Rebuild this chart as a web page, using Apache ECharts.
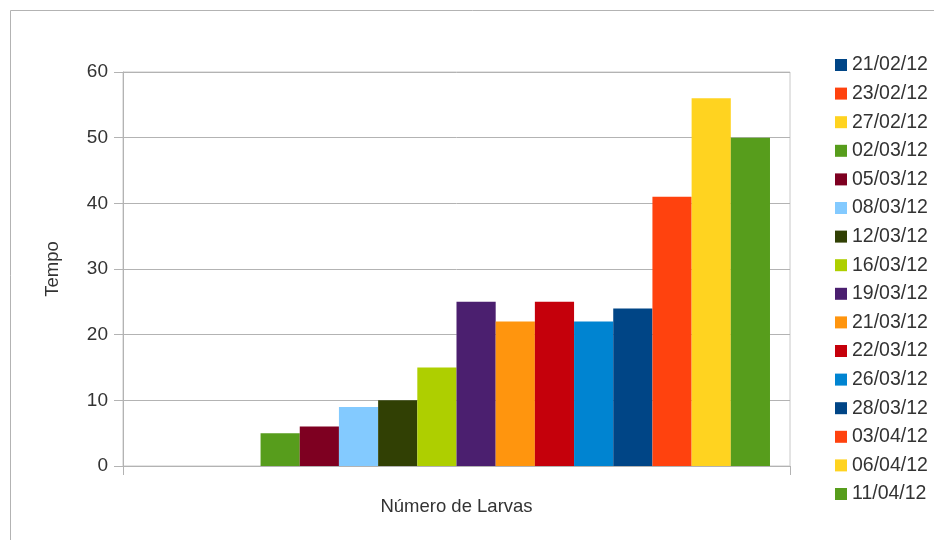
<!DOCTYPE html>
<html>
<head>
<meta charset="utf-8">
<script src="https://cdn.jsdelivr.net/npm/echarts@6/dist/echarts.min.js"></script>
<style>
  html, body { margin: 0; padding: 0; background: #fff; }
  #chart { width: 934px; height: 540px; }
</style>
</head>
<body>
<div id="chart"></div>
<script>
// Collection dates (one series each) and the time recorded on each date
const dates = ['21/02/12', '23/02/12', '27/02/12', '02/03/12', '05/03/12', '08/03/12',
  '12/03/12', '16/03/12', '19/03/12', '21/03/12', '22/03/12', '26/03/12',
  '28/03/12', '03/04/12', '06/04/12', '11/04/12'];
const tempo = [0, 0, 0, 5, 6, 9, 10, 15, 25, 22, 25, 22, 24, 41, 56, 50];
const palette = ['#004586', '#ff420e', '#ffd320', '#579d1c', '#7e0021', '#83caff',
  '#314004', '#aecf00', '#4b1f6f', '#ff950e', '#c5000b', '#0084d1',
  '#004586', '#ff420e', '#ffd320', '#579d1c'];
const yTicks = { min: 0, max: 60, step: 10 };

const font = 'Liberation Sans, Arial, sans-serif';
const chart = echarts.init(document.getElementById('chart'), null, { renderer: 'canvas' });

const series = dates.map((d, i) => ({
  name: d,
  type: 'bar',
  data: [tempo[i]],
  itemStyle: { color: palette[i] },
  barGap: '0%',
  barCategoryGap: '6%',
  animation: false
}));

chart.setOption({
  animation: false,
  textStyle: { fontFamily: font },
  graphic: [{
    type: 'rect',
    shape: { x: 10.5, y: 10.5, width: 1000, height: 1000 },
    style: { fill: 'none', stroke: '#b3b3b3', lineWidth: 1 },
    silent: true,
    z: -1
  }],
  grid: {
    left: 123, right: 144, top: 72, bottom: 74,
    show: true, borderColor: '#c8c8c8', borderWidth: 1
  },
  legend: {
    orient: 'vertical',
    left: 830, top: 50,
    itemWidth: 12, itemHeight: 12,
    itemGap: 8.6,
    itemTextGap: 6,
    icon: 'rect',
    textStyle: { fontSize: 19.5, color: '#333', fontFamily: font, lineHeight: 20 },
    data: dates
  },
  xAxis: {
    type: 'category',
    data: [''],
    name: 'Número de Larvas',
    nameLocation: 'middle',
    nameGap: 31,
    nameTextStyle: { fontSize: 18.5, color: '#333', fontFamily: font },
    axisLine: { lineStyle: { color: '#b3b3b3' } },
    axisTick: { show: true, length: 9, lineStyle: { color: '#b3b3b3' } },
    axisLabel: { show: false }
  },
  yAxis: {
    type: 'value',
    min: yTicks.min, max: yTicks.max, interval: yTicks.step,
    name: 'Tempo',
    nameLocation: 'middle',
    nameGap: 61,
    nameRotate: 90,
    nameTextStyle: { fontSize: 18.5, color: '#333', fontFamily: font },
    axisLine: { show: true, lineStyle: { color: '#b3b3b3' } },
    axisTick: { show: true, length: 9, lineStyle: { color: '#b3b3b3' } },
    axisLabel: { fontSize: 19, color: '#333', margin: 15, fontFamily: font },
    splitLine: { lineStyle: { color: '#b3b3b3' } }
  },
  series: series
});
</script>
</body>
</html>
